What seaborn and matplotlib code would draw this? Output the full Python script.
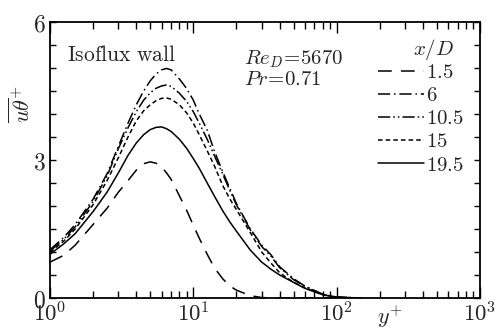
import numpy as np
import pandas as pd
import matplotlib
matplotlib.use("Agg")
import matplotlib.pyplot as plt
import seaborn as sns
from matplotlib.ticker import FixedLocator, LogLocator, NullFormatter, FixedFormatter

# ---------------- data ----------------
yplus = [1, 1.25, 1.5, 2, 2.5, 3, 3.5, 4, 4.5, 5, 5.5, 6, 6.5, 7, 8, 9, 10, 11,
         12.5, 14, 16, 18, 20, 25, 30, 35, 40, 50, 60, 80, 100, 150]

ut_15 = [0.78, 0.93, 1.15, 1.6, 1.95, 2.3, 2.55, 2.78, 2.92, 2.96, 2.93, 2.85, 2.72, 2.58,
         2.22, 1.9, 1.58, 1.3, 0.95, 0.66, 0.42, 0.26, 0.17, 0.05, 0.01, 0, 0, 0, 0, 0, 0, 0]
ut_6 = [1.05, 1.32, 1.6, 2.15, 2.7, 3.3, 3.8, 4.2, 4.5, 4.72, 4.87, 4.96, 4.99, 4.96,
        4.76, 4.55, 4.3, 4.0, 3.65, 3.2, 2.75, 2.38, 2.05, 1.5, 1.15, 0.93, 0.68, 0.42,
        0.26, 0.08, 0.02, 0]
ut_105 = [1.02, 1.28, 1.55, 2.1, 2.65, 3.25, 3.7, 4.05, 4.3, 4.46, 4.56, 4.61, 4.63, 4.6,
          4.45, 4.27, 4.05, 3.8, 3.45, 3.1, 2.7, 2.33, 2.02, 1.48, 1.12, 0.9, 0.66, 0.4,
          0.25, 0.08, 0.02, 0]
ut_15b = [0.99, 1.24, 1.5, 2.03, 2.55, 3.05, 3.5, 3.85, 4.07, 4.2, 4.29, 4.34, 4.35, 4.32,
          4.2, 4.02, 3.8, 3.55, 3.2, 2.88, 2.45, 2.15, 1.92, 1.42, 1.0, 0.75, 0.55, 0.34,
          0.22, 0.07, 0.02, 0]
ut_195 = [0.95, 1.18, 1.4, 1.88, 2.3, 2.72, 3.1, 3.37, 3.55, 3.66, 3.71, 3.72, 3.68, 3.62,
          3.45, 3.25, 3.03, 2.82, 2.5, 2.22, 1.9, 1.65, 1.45, 1.04, 0.78, 0.62, 0.5, 0.34,
          0.21, 0.07, 0.01, 0]

cases = ["1.5", "6", "10.5", "15", "19.5"]
series = [ut_15, ut_6, ut_105, ut_15b, ut_195]

x_ticks = [1, 10, 100, 1000]
x_tick_labels = [r"$10^{0}$", r"$10^{1}$", r"$10^{2}$", r"$10^{3}$"]
y_ticks = [0, 3, 6]
y_tick_labels = [r"$0$", r"$3$", r"$6$"]

df = pd.DataFrame({
    "yplus": np.tile(yplus, len(cases)),
    "ut": np.concatenate(series),
    "case": np.repeat(cases, len(yplus)),
})

# ---------------- style ----------------
sns.set_theme(style="ticks")
plt.rcParams.update({
    "font.family": ["DejaVu Serif"],
    "mathtext.fontset": "cm",
    "axes.linewidth": 1.3,
    "xtick.direction": "in",
    "ytick.direction": "in",
})

fig = plt.figure(figsize=(5.01, 3.29), dpi=100)
ax = fig.add_axes([50 / 501, 1 - 298 / 329, 430 / 501, 276 / 329])
ax.set_xscale("log")

dashes = {
    "1.5": (9, 6),
    "6": (8, 2.5, 1, 2.5),
    "10.5": (8, 2, 1, 2, 1, 2),
    "15": (3, 2),
    "19.5": "",
}
sns.lineplot(data=df, x="yplus", y="ut", style="case", style_order=cases,
             dashes=dashes, color="black", lw=1.1, ax=ax, legend=True)

ax.set_xlim(1, 1000)
ax.set_ylim(0, 6)

ax.xaxis.set_major_locator(FixedLocator(x_ticks))
ax.xaxis.set_major_formatter(FixedFormatter(x_tick_labels))
ax.xaxis.set_minor_locator(LogLocator(base=10, subs=np.arange(2, 10)))
ax.xaxis.set_minor_formatter(NullFormatter())
ax.yaxis.set_major_locator(FixedLocator(y_ticks))
ax.yaxis.set_major_formatter(FixedFormatter(y_tick_labels))
ax.yaxis.set_minor_locator(FixedLocator(np.arange(0, 6.01, 0.5)))

ax.tick_params(which="both", top=True, right=True, color="black", width=1.0)
ax.tick_params(axis="x", which="major", length=8, labelsize=16.5, pad=3)
ax.tick_params(axis="x", which="minor", length=5)
ax.tick_params(axis="y", which="both", length=4.5, labelsize=17, pad=3)

for s in ax.spines.values():
    s.set_color("black")

ax.set_xlabel(r"$y^{+}$", fontsize=16)
ax.xaxis.set_label_coords(0.79, -0.02)
ax.xaxis.label.set_va("top")
ax.set_ylabel(r"$\overline{u\theta}^{+}$", fontsize=16)
ax.yaxis.set_label_coords(-0.035, 0.70)

ax.text(0.04, 0.88, r"$\mathrm{Isoflux\ wall}$", transform=ax.transAxes,
        fontsize=15.5, va="center", ha="left")
ax.text(0.45, 0.865, r"$Re_{D}\!=\!5670$", transform=ax.transAxes,
        fontsize=15, va="center", ha="left")
ax.text(0.45, 0.79, r"$Pr\!=\!0.71$", transform=ax.transAxes,
        fontsize=15, va="center", ha="left")
# legend title
ax.text(0.893, 0.902, r"$x/D$", transform=ax.transAxes,
        fontsize=15, va="center", ha="center")

handles, labels = ax.get_legend_handles_labels()
labels = [r"$%s$" % l for l in labels]
leg = ax.legend(handles, labels, loc="upper right",
                bbox_to_anchor=(0.962, 0.852), borderaxespad=0, frameon=False,
                fontsize=15, handlelength=2.2, handletextpad=0.1,
                labelspacing=0.2, borderpad=0.0)
for h in leg.get_lines():
    h.set_linewidth(1.1)

fig.savefig("out.png", dpi=100)
